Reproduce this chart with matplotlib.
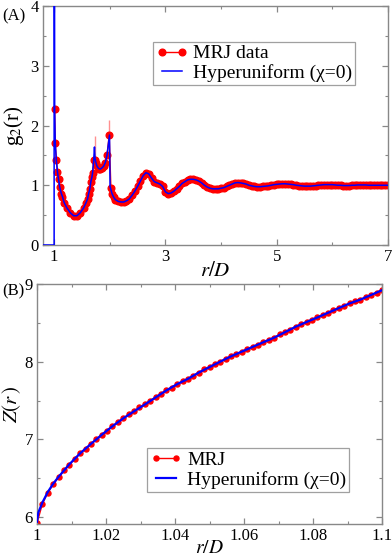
import numpy as np
import matplotlib
matplotlib.use("Agg")
import matplotlib.pyplot as plt
from matplotlib.ticker import MultipleLocator

plt.rcParams['font.family'] = ['Liberation Serif', 'DejaVu Serif']
plt.rcParams['mathtext.fontset'] = 'stix'

# ---------------- Panel A data: g2(r) ----------------
mrj_r = [1.01, 1.02, 1.04, 1.06, 1.08, 1.10, 1.13, 1.15, 1.18, 1.23, 1.29, 1.35, 1.41,
         1.47, 1.53, 1.57, 1.60, 1.62, 1.64, 1.66, 1.68, 1.69, 1.71, 1.73, 1.75, 1.77,
         1.80, 1.83, 1.86, 1.89, 1.92, 1.95, 1.99, 2.02, 2.04, 2.07, 2.10, 2.15, 2.20,
         2.25, 2.30, 2.35, 2.40, 2.45, 2.50, 2.55, 2.60, 2.65, 2.70, 2.75, 2.80, 2.85,
         2.90, 2.95, 3.00, 3.05, 3.10, 3.15, 3.20, 3.25, 3.30, 3.35, 3.40, 3.45, 3.50,
         3.55, 3.60, 3.65, 3.70, 3.75, 3.80, 3.85, 3.90, 3.95, 4.00, 4.05, 4.10, 4.15,
         4.20, 4.25, 4.30, 4.35, 4.40, 4.45, 4.50, 4.55, 4.60, 4.65, 4.70, 4.75, 4.80,
         4.85, 4.90, 4.95, 5.00, 5.05, 5.10, 5.15, 5.20, 5.25, 5.30, 5.35, 5.40, 5.45,
         5.50, 5.55, 5.60, 5.65, 5.70, 5.75, 5.80, 5.85, 5.90, 5.95, 6.00, 6.05, 6.10,
         6.15, 6.20, 6.25, 6.30, 6.35, 6.40, 6.45, 6.50, 6.55, 6.60, 6.65, 6.70, 6.75,
         6.80, 6.85, 6.90, 6.95, 7.00]
mrj_g = [2.27, 1.71, 1.42, 1.22, 1.10, 0.97, 0.86, 0.81, 0.71, 0.62, 0.54, 0.49, 0.49,
         0.54, 0.62, 0.70, 0.77, 0.86, 0.93, 1.06, 1.14, 1.20, 1.42, 1.43, 1.38, 1.32,
         1.28, 1.27, 1.29, 1.32, 1.38, 1.50, 1.84, 0.96, 0.86, 0.80, 0.76, 0.73, 0.72,
         0.72, 0.74, 0.77, 0.83, 0.90, 0.98, 1.07, 1.16, 1.21, 1.19, 1.12, 1.06, 1.04,
         1.02, 0.98, 0.89, 0.86, 0.87, 0.90, 0.94, 0.98, 1.03, 1.06, 1.09, 1.10, 1.10,
         1.09, 1.07, 1.04, 1.00, 0.97, 0.95, 0.94, 0.94, 0.94, 0.95, 0.96, 0.98, 1.00,
         1.02, 1.04, 1.045, 1.04, 1.03, 1.02, 1.00, 0.99, 0.98, 0.975, 0.975, 0.98, 0.985,
         0.99, 1.00, 1.01, 1.015, 1.02, 1.025, 1.025, 1.02, 1.015, 1.01, 1.00, 0.995, 0.99,
         0.985, 0.985, 0.985, 0.99, 0.995, 1.00, 1.005, 1.01, 1.01, 1.01, 1.01, 1.005, 1.00,
         1.00, 0.995, 0.995, 0.995, 1.00, 1.00, 1.005, 1.005, 1.005, 1.005, 1.00, 1.00, 1.00,
         1.00, 1.00, 1.00, 1.00, 1.00]
# upper error bars (only visible ones near the split peaks)
mrj_err_r = [1.73, 1.99]
mrj_err_g = [1.43, 1.84]
mrj_err_up = [0.39, 0.26]

hyp_r = [0.80, 1.00, 1.00, 1.01, 1.02, 1.04, 1.06, 1.08, 1.10, 1.13, 1.15, 1.18, 1.23, 1.29,
         1.35, 1.41, 1.47, 1.53, 1.57, 1.60, 1.62, 1.64, 1.66, 1.68, 1.69, 1.71, 1.725,
         1.735, 1.75, 1.77, 1.80, 1.83, 1.86, 1.89, 1.92, 1.95, 1.995, 2.005, 2.02, 2.04,
         2.07, 2.10, 2.15, 2.20, 2.25, 2.30, 2.35, 2.40, 2.45, 2.50, 2.55, 2.60, 2.65,
         2.70, 2.75, 2.80, 2.85, 2.90, 2.95, 3.00, 3.05, 3.10, 3.15, 3.20, 3.25, 3.30,
         3.35, 3.40, 3.45, 3.50, 3.55, 3.60, 3.65, 3.70, 3.75, 3.80, 3.85, 3.90, 3.95,
         4.00, 4.05, 4.10, 4.15, 4.20, 4.25, 4.30, 4.35, 4.40, 4.45, 4.50, 4.55, 4.60,
         4.65, 4.70, 4.75, 4.80, 4.85, 4.90, 4.95, 5.00, 5.05, 5.10, 5.15, 5.20, 5.25,
         5.30, 5.35, 5.40, 5.45, 5.50, 5.55, 5.60, 5.65, 5.70, 5.75, 5.80, 5.85, 5.90,
         5.95, 6.00, 6.05, 6.10, 6.15, 6.20, 6.25, 6.30, 6.35, 6.40, 6.45, 6.50, 6.55,
         6.60, 6.65, 6.70, 6.75, 6.80, 6.85, 6.90, 6.95, 7.00]
hyp_g = [0.0, 0.0, 10.0, 2.27, 1.71, 1.42, 1.22, 1.10, 0.97, 0.86, 0.81, 0.71, 0.62, 0.54,
         0.49, 0.49, 0.54, 0.62, 0.70, 0.77, 0.86, 0.93, 1.06, 1.14, 1.20, 1.40, 1.64,
         1.45, 1.38, 1.32, 1.28, 1.27, 1.29, 1.32, 1.38, 1.50, 1.84, 0.98, 0.93, 0.86,
         0.80, 0.76, 0.73, 0.72, 0.72, 0.74, 0.77, 0.83, 0.90, 0.98, 1.07, 1.16, 1.21,
         1.19, 1.12, 1.06, 1.04, 1.02, 0.98, 0.89, 0.86, 0.87, 0.90, 0.94, 0.98, 1.03,
         1.06, 1.09, 1.10, 1.10, 1.09, 1.07, 1.04, 1.00, 0.97, 0.95, 0.94, 0.94, 0.94,
         0.95, 0.96, 0.98, 1.00, 1.02, 1.04, 1.045, 1.04, 1.03, 1.02, 1.00, 0.99, 0.98,
         0.975, 0.975, 0.98, 0.985, 0.99, 1.00, 1.01, 1.015, 1.02, 1.025, 1.025, 1.02, 1.015,
         1.01, 1.00, 0.995, 0.99, 0.985, 0.985, 0.985, 0.99, 0.995, 1.00, 1.005, 1.01, 1.01,
         1.01, 1.01, 1.005, 1.00, 1.00, 0.995, 0.995, 0.995, 1.00, 1.00, 1.005, 1.005, 1.005,
         1.005, 1.00, 1.00, 1.00, 1.00, 1.00, 1.00, 1.00, 1.00]

# ---------------- Panel B data: Z(r) ----------------
z_r = np.linspace(1.0, 1.1, 65)
z_mrj = [5.92, 6.17, 6.31, 6.42, 6.51, 6.60, 6.67, 6.75, 6.82, 6.88, 6.94, 7.00, 7.06,
         7.11, 7.17, 7.22, 7.27, 7.32, 7.36, 7.41, 7.45, 7.50, 7.54, 7.59, 7.63, 7.66,
         7.71, 7.75, 7.78, 7.82, 7.86, 7.90, 7.93, 7.97, 8.00, 8.04, 8.07, 8.10, 8.13,
         8.16, 8.19, 8.22, 8.25, 8.28, 8.31, 8.35, 8.38, 8.41, 8.45, 8.48, 8.51, 8.54,
         8.57, 8.60, 8.63, 8.66, 8.69, 8.72, 8.75, 8.78, 8.80, 8.83, 8.86, 8.89, 8.92]
hyp_zr = [1.0, 1.0004, 1.0016, 1.0031, 1.0047, 1.0063, 1.0094, 1.0125, 1.0156, 1.0188,
          1.0219, 1.025, 1.0281, 1.0313, 1.0344, 1.0375, 1.0406, 1.0438, 1.0469, 1.05,
          1.0531, 1.0563, 1.0594, 1.0625, 1.0656, 1.0688, 1.0719, 1.075, 1.0781, 1.0813,
          1.0844, 1.0875, 1.0906, 1.0938, 1.0969, 1.1]
hyp_z = [5.94, 6.06, 6.19, 6.32, 6.43, 6.52, 6.68, 6.82, 6.94, 7.06, 7.17, 7.27, 7.36,
         7.45, 7.54, 7.63, 7.71, 7.78, 7.86, 7.93, 8.00, 8.07, 8.13, 8.19, 8.25, 8.31,
         8.38, 8.45, 8.51, 8.57, 8.63, 8.69, 8.75, 8.80, 8.86, 8.92]

RED = '#ff0000'
BLUE = '#0000ff'
FRAME = '#888888'

fig = plt.figure(figsize=(3.92, 5.57), dpi=100)
axA = fig.add_axes([43 / 392, 312 / 557, 345 / 392, 239 / 557])
axB = fig.add_axes([37 / 392, 33 / 557, 345 / 392, 240 / 557])

def style(ax):
    for s in ax.spines.values():
        s.set_color(FRAME)
        s.set_linewidth(1.0)
    ax.tick_params(which='both', direction='in', top=True, right=True,
                   color=FRAME, labelsize=12, pad=3)
    ax.tick_params(which='major', length=4, width=0.9)
    ax.tick_params(which='minor', length=2.5, width=0.8)

# Panel A
axA.errorbar(mrj_err_r, mrj_err_g, yerr=[[0, 0], mrj_err_up], fmt='none',
             ecolor='#ff9090', elinewidth=1.0, capsize=0, zorder=1)
axA.plot(mrj_r, mrj_g, '-o', color=RED, lw=1.0, ms=4.8, mec=RED,
         label='MRJ data', zorder=2)
axA.plot(hyp_r, hyp_g, '-', color=BLUE, lw=1.1, label='Hyperuniform (χ=0)', zorder=3)
axA.set_xlim(0.8, 7)
axA.set_ylim(0, 4)
axA.set_xticks([1, 3, 5, 7])
axA.xaxis.set_minor_locator(MultipleLocator(1))
axA.yaxis.set_major_locator(MultipleLocator(1))
axA.yaxis.set_minor_locator(MultipleLocator(0.5))
style(axA)
axA.set_xlabel(r'$r/D$', fontsize=15, labelpad=-2)
axA.set_ylabel(r'g$_2$(r)', fontsize=15, labelpad=3)
legA = axA.legend(loc='upper left', bbox_to_anchor=(0.32, 0.85), fontsize=14,
                  frameon=True, fancybox=False, edgecolor=FRAME, numpoints=2,
                  handlelength=1.6, handletextpad=0.3, borderpad=0.15,
                  labelspacing=0.1, borderaxespad=0)
legA.get_frame().set_linewidth(0.9)

# Panel B
axB.plot(z_r, z_mrj, '-o', color=RED, lw=1.0, ms=3.6, mec=RED, label='MRJ', zorder=2)
axB.plot(hyp_zr, hyp_z, '-', color=BLUE, lw=1.6, label='Hyperuniform (χ=0)', zorder=3)
axB.set_xlim(1.0, 1.1)
axB.set_ylim(5.91, 9.0)
axB.set_xticks([1.0, 1.02, 1.04, 1.06, 1.08, 1.1])
axB.set_xticklabels(['1', '1.02', '1.04', '1.06', '1.08', '1.1'])
axB.xaxis.set_minor_locator(MultipleLocator(0.01))
axB.yaxis.set_major_locator(MultipleLocator(1))
axB.yaxis.set_minor_locator(MultipleLocator(0.5))
style(axB)
axB.set_xlabel(r'$r/D$', fontsize=14, labelpad=-3)
axB.set_ylabel(r'$Z(r\,)$', fontsize=15, labelpad=1)
legB = axB.legend(loc='lower left', bbox_to_anchor=(0.32, 0.135), fontsize=14,
                  frameon=True, fancybox=False, edgecolor=FRAME, numpoints=2,
                  handlelength=1.6, handletextpad=0.3, borderpad=0.15,
                  labelspacing=0.1, borderaxespad=0)
legB.get_frame().set_linewidth(0.9)

fig.text(2 / 392, 1 - 16 / 557, '(A)', fontsize=12, va='center', ha='left')
fig.text(2 / 392, 1 - 291 / 557, '(B)', fontsize=12, va='center', ha='left')

fig.savefig('out.png', dpi=100)
